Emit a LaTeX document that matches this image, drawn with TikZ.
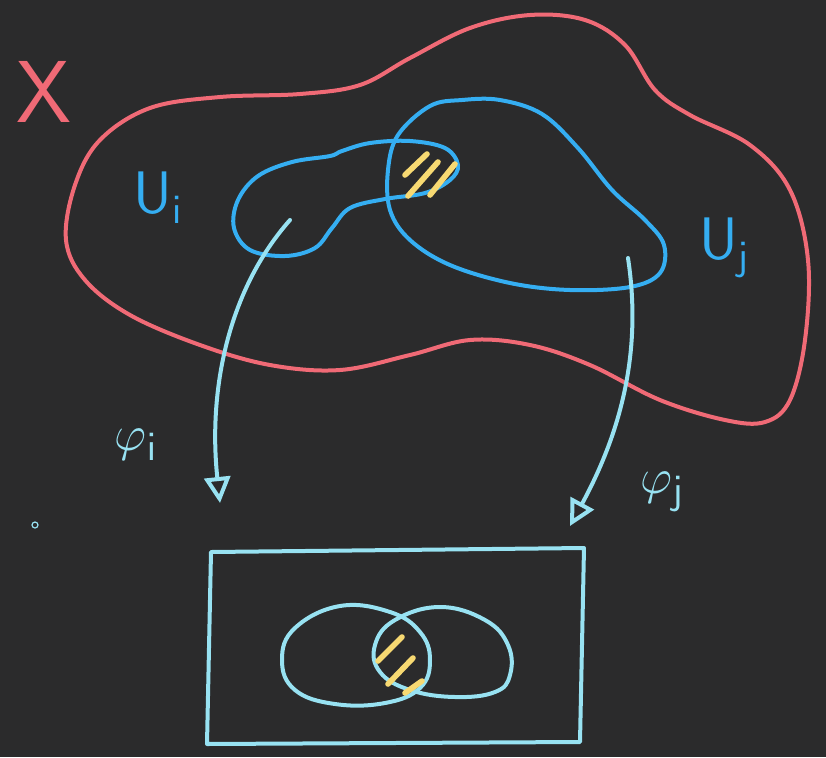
\documentclass[tikz,border=0pt]{standalone}
\usepackage{tikz}
\usetikzlibrary{arrows.meta}

\definecolor{board}{HTML}{2B2B2C}
\definecolor{chalkred}{HTML}{F06A76}
\definecolor{chalkblue}{HTML}{35AEF2}
\definecolor{chalkcyan}{HTML}{98E2F2}
\definecolor{chalkyellow}{HTML}{F7D972}

\tikzset{
  chalk/.style={line width=2pt, line cap=round, line join=round},
  hatch/.style={chalk, chalkyellow, line width=2.8pt},
  hand/.style={font=\sffamily\fontsize{30}{36}\selectfont, inner sep=0pt},
  maphead/.style={-{Triangle[open, length=13pt, width=13pt, line width=2pt]}},
}

\begin{document}
\begin{tikzpicture}[x=0.5pt, y=-0.5pt]
\fill[board] (0,0) rectangle (826,757);
\useasboundingbox (0,0) rectangle (826,757);

\draw[chalk, chalkred] plot[smooth cycle, tension=0.6] coordinates {
  (66,240) (75,185) (100,140) (150,108) (220,97) (300,94) (360,85)
  (410,58) (470,28) (530,15) (585,20) (625,45) (655,90) (690,115)
  (750,145) (790,190) (808,260) (805,340) (790,400) (765,422) (725,420)
  (660,400) (590,365) (530,345) (470,340) (410,355) (340,370) (270,365)
  (200,345) (130,315) (85,280)};

\draw[chalk, chalkblue] plot[smooth cycle, tension=0.6] coordinates {
  (330,156) (292,162) (258,176) (238,200) (234,228) (250,250) (285,256)
  (315,248) (332,228) (350,208) (385,199) (425,193) (450,180) (458,165)
  (445,148) (410,141) (370,143) (342,151)};

\draw[chalk, chalkblue] plot[smooth cycle, tension=0.6] coordinates {
  (430,106) (398,135) (388,170) (390,210) (410,240) (450,265) (510,283)
  (570,290) (630,287) (660,273) (664,245) (645,220) (612,190) (578,148)
  (542,114) (500,100) (462,100)};

\draw[hatch] (405,175) -- (427,154);
\draw[hatch] (408,196) -- (438,162);
\draw[hatch] (430,195) -- (455,164);

\node[hand, chalkred, font=\sffamily\fontsize{44}{50}\selectfont] (xname) at (44,92) {X};
\node[hand, chalkblue] (uiname) at (158,198) {U$_{\mathsf{i}}$};
\node[hand, chalkblue] (ujname) at (724,248) {U$_{\mathsf{j}}$};
\node[hand, chalkcyan] (phiiname) at (136,445) {$\varphi_{\mathsf{i}}$};
\node[hand, chalkcyan] (phijname) at (662,492) {$\varphi_{\mathsf{j}}$};

\coordinate (phii-start) at (290,220);
\coordinate (phii-end) at (220,503);
\coordinate (phij-start) at (628,258);
\coordinate (phij-end) at (570,526);
\draw[chalk, chalkcyan, maphead] (phii-start) .. controls (228,290) and (208,390) .. (phii-end);
\draw[chalk, chalkcyan, maphead] (phij-start) .. controls (642,350) and (622,430) .. (phij-end);

\coordinate (rect-nw) at (211,552);
\coordinate (rect-ne) at (584,548);
\coordinate (rect-se) at (580,742);
\coordinate (rect-sw) at (207,744);
\draw[chalk, chalkcyan] (rect-nw) -- (rect-ne) -- (rect-se) -- (rect-sw) -- cycle;

\draw[chalk, chalkcyan] plot[smooth cycle, tension=0.7] coordinates {
  (340,606) (390,612) (420,632) (430,660) (420,688) (385,703) (335,704)
  (295,690) (282,660) (295,628)};
\draw[chalk, chalkcyan] plot[smooth cycle, tension=0.7] coordinates {
  (440,607) (485,620) (508,645) (510,675) (495,692) (455,697) (410,690)
  (380,672) (375,645) (395,620)};

\draw[hatch] (378,661) -- (402,637);
\draw[hatch] (388,684) -- (413,658);
\draw[hatch] (405,693) -- (422,681);

\draw[chalkcyan, line width=0.6pt] (35,525) circle[radius=3];
\end{tikzpicture}
\end{document}
